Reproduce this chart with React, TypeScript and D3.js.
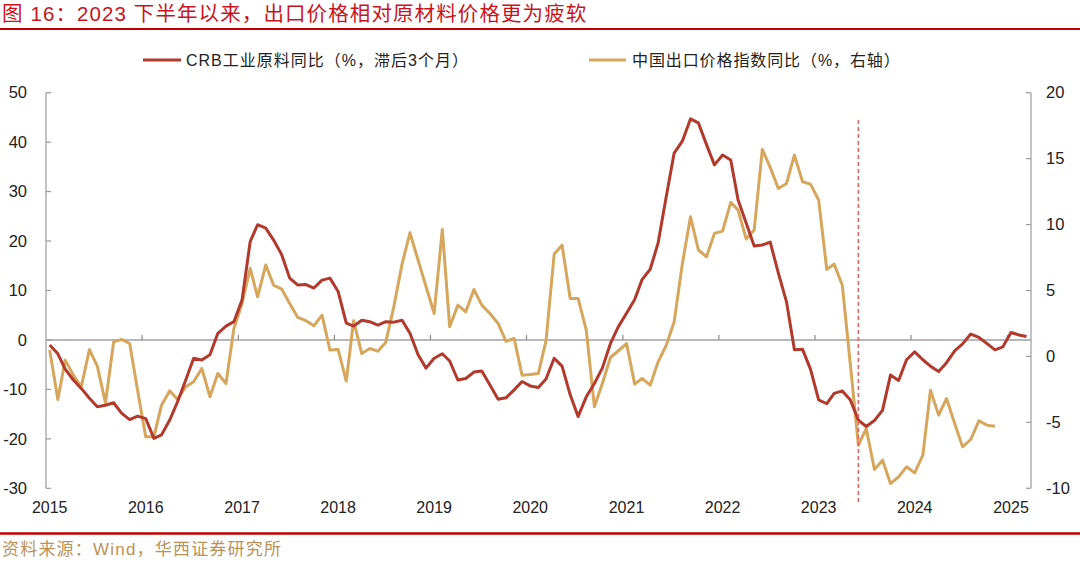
import React from "react";
import * as d3 from "d3";

const title = "图 16：2023 下半年以来，出口价格相对原材料价格更为疲软";
const source = "资料来源：Wind，华西证券研究所";
const legendRed = "CRB工业原料同比（%，滞后3个月）";
const legendGold = "中国出口价格指数同比（%，右轴）";

const startYear = 2015;
const leftTicks = [50, 40, 30, 20, 10, 0, -10, -20, -30];
const rightTicks = [20, 15, 10, 5, 0, -5, -10];
const yearLabels = ["2015", "2016", "2017", "2018", "2019", "2020", "2021", "2022", "2023", "2024", "2025"];

// CRB industrial raw materials YoY (%, lagged 3 months), monthly from 2015-01
const crb = [
  -1.0, -2.8, -5.9, -8.1, -9.8, -11.8, -13.5, -13.2, -12.7, -14.8, -16.1, -15.4,
  -15.9, -19.9, -19.2, -16.2, -12.5, -8.1, -3.7, -4.05, -3.0, 1.35, 2.8, 3.7,
  8.1, 19.9, 23.3, 22.6, 20.2, 17.2, 12.5, 11.1, 11.2, 10.5, 12.1, 12.5,
  9.8, 3.4, 2.8, 4.0, 3.7, 3.0, 3.7, 3.6, 4.0, 1.35, -3.0, -5.7,
  -3.7, -2.8, -4.25, -8.1, -7.8, -6.5, -6.3, -9.1, -12.0, -11.7, -10.1, -8.4,
  -9.3, -9.6, -7.9, -3.7, -5.3, -11.1, -15.5, -11.5, -8.8, -5.7, -0.7, 2.7,
  5.4, 8.2, 12.2, 14.3, 19.6, 29.0, 37.8, 40.2, 44.7, 43.9, 39.5, 35.4,
  37.4, 36.4, 28.3, 23.6, 19.0, 19.2, 19.8, 13.5, 7.7, -2.0, -1.9, -5.9,
  -12.1, -12.9, -10.8, -10.3, -12.1, -16.2, -17.5, -16.3, -14.2, -7.1, -8.2, -4.0,
  -2.4, -4.0, -5.3, -6.4, -4.6, -2.2, -0.8, 1.2, 0.5, -0.7, -2.0, -1.4,
  1.5, 1.0, 0.7,
];

// China export price index YoY (%, right axis), monthly from 2015-01
const exportPrice = [
  0.48, -3.26, -0.28, -1.42, -2.3, 0.52, -0.74, -3.52, 1.1, 1.29, 0.98, -2.56,
  -6.1, -6.1, -3.7, -2.6, -3.26, -2.3, -1.92, -0.91, -3.06, -1.29, -2.05, 2.12,
  4.02, 6.68, 4.52, 6.93, 5.41, 5.1, 4.02, 2.96, 2.71, 2.33, 3.13, 0.48,
  0.53, -1.87, 2.71, 0.22, 0.6, 0.4, 1.06, 3.8, 7.0, 9.38, 7.3, 5.3,
  3.26, 9.63, 2.25, 3.89, 3.39, 5.08, 3.89, 3.26, 2.5, 1.15, 1.36, -1.42,
  -1.37, -1.29, 1.18, 7.76, 8.44, 4.4, 4.4, 2.0, -3.82, -2.05, -0.08, 0.43,
  0.98, -2.1, -1.67, -2.18, -0.41, 0.85, 2.63, 7.0, 10.6, 8.07, 7.56, 9.33,
  9.5, 11.68, 11.1, 8.9, 9.58, 15.7, 14.34, 12.74, 13.12, 15.27, 13.25, 13.07,
  11.86, 6.6, 7.0, 5.4, -0.5, -6.73, -5.47, -8.58, -7.87, -9.64, -9.13, -8.37,
  -8.83, -7.49, -2.56, -4.45, -3.19, -5.09, -6.86, -6.3, -4.88, -5.21, -5.29,
];

const markerDate = new Date(2023, 5, 15);

const FONT = "'Liberation Sans', Arial, 'Noto Sans CJK SC', sans-serif";
const RED = "#b13a2d";
const GOLD = "#d5a65c";

function monthDate(i: number) {
  return new Date(startYear, i, 15);
}

export default function App() {
  const W = 1080;
  const H = 561;
  const x = d3
    .scaleTime()
    .domain([new Date(2015, 0, 1), new Date(2025, 3, 1)])
    .range([46, 1031]);
  const yL = d3.scaleLinear().domain([-30, 50]).range([488.3, 92.7]);
  const yR = d3.scaleLinear().domain([-10, 20]).range([488.3, 92.7]);

  const lineL = d3
    .line<number>()
    .x((_, i) => x(monthDate(i)))
    .y((d) => yL(d));
  const lineR = d3
    .line<number>()
    .x((_, i) => x(monthDate(i)))
    .y((d) => yR(d));

  const yearTicks = d3.timeYear.range(new Date(2016, 0, 1), new Date(2025, 1, 1));

  return (
    <svg
      width={W}
      height={H}
      style={{ position: "absolute", left: 0, top: 0, display: "block", background: "#fff" }}
      fontFamily={FONT}
    >
      {/* title */}
      <text x={2} y={21} fontSize={20.5} fill="#c8141e" letterSpacing={1.1}>
        {title}
      </text>
      <line x1={0} x2={W} y1={29} y2={29} stroke="#c00000" strokeWidth={2} />

      {/* legend */}
      <line x1={143} x2={181} y1={60} y2={60} stroke={RED} strokeWidth={3} />
      <text x={186} y={60} dy="0.35em" fontSize={16} fill="#222" letterSpacing={1.0}>
        {legendRed}
      </text>
      <line x1={589} x2={626} y1={60} y2={60} stroke={GOLD} strokeWidth={3} />
      <text x={632} y={60} dy="0.35em" fontSize={16} fill="#222" letterSpacing={0.9}>
        {legendGold}
      </text>

      {/* left axis */}
      <line x1={46} x2={46} y1={yL(50)} y2={yL(-30)} stroke="#9a9a9a" strokeWidth={1.2} />
      {leftTicks.map((t) => (
        <g key={"l" + t}>
          <line x1={46} x2={51} y1={yL(t)} y2={yL(t)} stroke="#9a9a9a" strokeWidth={1.2} />
          <text x={27} y={yL(t)} dy="0.35em" textAnchor="end" fontSize={16.5} fill="#222">
            {t}
          </text>
        </g>
      ))}

      {/* right axis */}
      <line x1={1031} x2={1031} y1={yR(20)} y2={yR(-10)} stroke="#9a9a9a" strokeWidth={1.2} />
      {rightTicks.map((t) => (
        <g key={"r" + t}>
          <line x1={1026} x2={1031} y1={yR(t)} y2={yR(t)} stroke="#9a9a9a" strokeWidth={1.2} />
          <text x={1046} y={yR(t)} dy="0.35em" textAnchor="start" fontSize={16.5} fill="#222">
            {t}
          </text>
        </g>
      ))}

      {/* zero baseline with year ticks */}
      <line x1={46} x2={1031} y1={yL(0)} y2={yL(0)} stroke="#a0a0a0" strokeWidth={1.5} />
      {yearTicks.map((d) => (
        <line
          key={d.getFullYear()}
          x1={x(d)}
          x2={x(d)}
          y1={yL(0)}
          y2={yL(0) - 5}
          stroke="#8a8a8a"
          strokeWidth={1.2}
        />
      ))}
      {yearLabels.map((lab, i) => (
        <text
          key={lab}
          x={x(new Date(startYear + i, 0, 15))}
          y={513}
          textAnchor="middle"
          fontSize={16}
          fill="#222"
        >
          {lab}
        </text>
      ))}

      {/* series */}
      <path d={lineR(exportPrice) || ""} fill="none" stroke={GOLD} strokeWidth={3} strokeLinejoin="round" />
      <path d={lineL(crb) || ""} fill="none" stroke={RED} strokeWidth={3} strokeLinejoin="round" />

      {/* marker */}
      <line
        x1={x(markerDate)}
        x2={x(markerDate)}
        y1={120}
        y2={502}
        stroke="#e06464"
        strokeWidth={1.6}
        strokeDasharray="4,3"
      />

      {/* footer */}
      <line x1={0} x2={W} y1={533.5} y2={533.5} stroke="#c00000" strokeWidth={2.5} />
      <text x={2} y={549} dy="0.35em" fontSize={17} fill="#b8925a" letterSpacing={1.2}>
        {source}
      </text>
    </svg>
  );
}
